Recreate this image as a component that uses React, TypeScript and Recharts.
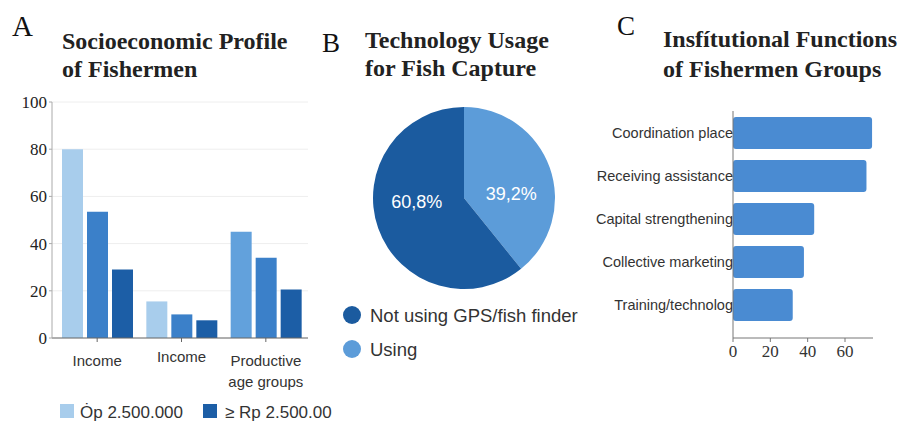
import { BarChart, Bar, XAxis, YAxis, CartesianGrid, Cell, PieChart, Pie } from 'recharts';

// Panel A: socioeconomic profile
const profileGroups = [['Income'], ['Income'], ['Productive', 'age groups']];
const profileLow = [80, 15.5, 45];
const profileMid = [53.5, 10, 34];
const profileHigh = [29, 7.5, 20.5];
const profileTicks = [0, 20, 40, 60, 80, 100];
const profileLegend = ['\u022Ep 2.500.000', '\u2265 Rp 2.500.00'];

// Panel B: technology usage
const techNames = ['Using', 'Not using GPS/fish finder'];
const techValues = [39.2, 60.8];
const techLabels = ['39,2%', '60,8%'];

// Panel C: institutional functions
const funcNames = ['Coordination place', 'Receiving assistance', 'Capital strengthening', 'Collective marketing', 'Training/technolog'];
const funcValues = [74.5, 71.5, 43.5, 38, 32];
const funcTicks = [0, 20, 40, 60];

const SERIF = '"Liberation Serif", "Times New Roman", serif';
const SANS = '"Liberation Sans", Arial, sans-serif';

const C_LIGHT = '#a8cdec';
const C_LIGHT2 = '#62a1dc';
const C_MID = '#3b80c9';
const C_DARK = '#1c5ea6';
const PIE_DARK = '#1b5b9f';
const PIE_LIGHT = '#5c9cd9';
const C_BAR = '#4a8bd2';

const profileData = profileGroups.map((g, i) => ({
  name: g.join(' '),
  low: profileLow[i],
  mid: profileMid[i],
  high: profileHigh[i],
}));

const techData = techNames.map((n, i) => ({ name: n, value: techValues[i], label: techLabels[i] }));
const funcData = funcNames.map((n, i) => ({ name: n, value: funcValues[i] }));

const ProfileTick = (props: any) => {
  const { x, y, index } = props;
  const lines = profileGroups[index] || [];
  const lift = index === 1 ? -4 : 0;
  return (
    <g>
      {lines.map((l, k) => (
        <text key={k} x={x} y={y + 22 + lift + k * 21} textAnchor="middle" fontFamily={SANS} fontSize={15} fill="#333">
          {l}
        </text>
      ))}
    </g>
  );
};

// serif number ticks, used on the y axis of A and x axis of C
const SerifYTick = (props: any) => {
  const { x, y, payload } = props;
  return (
    <text x={x} y={y} dy={6} textAnchor="end" fontFamily={SERIF} fontSize={17} fill="#222">
      {payload.value}
    </text>
  );
};

const SerifXTick = (props: any) => {
  const { x, y, payload } = props;
  return (
    <text x={x} y={y} dy={13} textAnchor="middle" fontFamily={SERIF} fontSize={17} fill="#333">
      {payload.value}
    </text>
  );
};

const FuncTick = (props: any) => {
  const { x, y, payload } = props;
  return (
    <text x={x + 2} y={y} dy={5} textAnchor="end" fontFamily={SANS} fontSize={14.5} fill="#333">
      {payload.value}
    </text>
  );
};

const RAD = Math.PI / 180;
const pieLabel = (p: any) => {
  const { cx, cy, midAngle, outerRadius, index } = p;
  const x = cx + outerRadius * 0.55 * Math.cos(midAngle * RAD);
  const y = cy - outerRadius * 0.12 * Math.sin(midAngle * RAD);
  return (
    <text x={x} y={y} textAnchor="middle" dominantBaseline="central" fontFamily={SANS} fontSize={18} fill="#fff">
      {techData[index].label}
    </text>
  );
};

export default function App() {
  return (
    <div style={{ position: 'absolute', left: 0, top: 0, width: 909, height: 423, background: '#fff', overflow: 'hidden' }}>
      <svg width={909} height={423} style={{ position: 'absolute', left: 0, top: 0 }}>
        <text x={12} y={36} fontFamily={SERIF} fontSize={29} fill="#111">A</text>
        <text x={62} y={49} fontFamily={SERIF} fontSize={24} fontWeight={600} fill="#222">Socioeconomic Profile</text>
        <text x={62} y={77} fontFamily={SERIF} fontSize={24} fontWeight={600} fill="#222">of Fishermen</text>

        <text x={322} y={52} fontFamily={SERIF} fontSize={27} fill="#111">B</text>
        <text x={365} y={48} fontFamily={SERIF} fontSize={24} fontWeight={600} fill="#222">Technology Usage</text>
        <text x={365} y={76} fontFamily={SERIF} fontSize={24} fontWeight={600} fill="#222">for Fish Capture</text>

        <text x={617} y={35} fontFamily={SERIF} fontSize={27} fill="#111">C</text>
        <text x={663} y={47} fontFamily={SERIF} fontSize={24} fontWeight={600} fill="#222">Insfítutional Functions</text>
        <text x={663} y={77} fontFamily={SERIF} fontSize={24} fontWeight={600} fill="#222">of Fishermen Groups</text>

        {/* legend A */}
        <rect x={60} y={404} width={14} height={14} fill={C_LIGHT} />
        <text x={80} y={418} fontFamily={SANS} fontSize={17} fill="#333">{profileLegend[0]}</text>
        <rect x={203} y={404} width={14} height={14} fill={C_DARK} />
        <text x={225} y={418} fontFamily={SANS} fontSize={17} fill="#333">{profileLegend[1]}</text>

        {/* legend B */}
        <circle cx={352} cy={315} r={9} fill={PIE_DARK} />
        <text x={370} y={322} fontFamily={SANS} fontSize={18.5} fill="#333">{techNames[1]}</text>
        <circle cx={352} cy={349} r={9} fill={PIE_LIGHT} />
        <text x={370} y={356} fontFamily={SANS} fontSize={18.5} fill="#333">{techNames[0]}</text>
      </svg>

      <div style={{ position: 'absolute', left: 0, top: 90 }}>
        <BarChart width={310} height={312} data={profileData} margin={{ top: 12, right: 2, left: 0, bottom: 14 }} barSize={21} barGap={4}>
          <CartesianGrid vertical={false} stroke="#eeeeee" />
          <XAxis dataKey="name" height={50} stroke="#666" tickSize={4} tick={<ProfileTick />} interval={0} padding={{ left: 3, right: 0 }} />
          <YAxis width={52} domain={[0, 100]} ticks={profileTicks} stroke="#aaa" tickSize={3} tick={<SerifYTick />} />
          <Bar dataKey="low" isAnimationActive={false}>
            {profileData.map((d, i) => (
              <Cell key={i} fill={i === 2 ? C_LIGHT2 : C_LIGHT} />
            ))}
          </Bar>
          <Bar dataKey="mid" fill={C_MID} isAnimationActive={false} />
          <Bar dataKey="high" fill={C_DARK} isAnimationActive={false} />
        </BarChart>
      </div>

      <div style={{ position: 'absolute', left: 312, top: 90 }}>
        <PieChart width={300} height={210}>
          <Pie
            data={techData}
            dataKey="value"
            cx={147}
            cy={103}
            outerRadius={91}
            startAngle={90}
            endAngle={-270}
            stroke="none"
            labelLine={false}
            label={pieLabel}
            isAnimationActive={false}
          >
            {techData.map((d, i) => (
              <Cell key={i} fill={i === 0 ? PIE_LIGHT : PIE_DARK} />
            ))}
          </Pie>
        </PieChart>
      </div>

      <div style={{ position: 'absolute', left: 580, top: 100 }}>
        <BarChart layout="vertical" width={300} height={268} data={funcData} margin={{ top: 11, right: 7, left: 3, bottom: 0 }} barSize={32}>
          <XAxis type="number" domain={[0, 75]} ticks={funcTicks} height={30} stroke="#777" tickSize={4} tick={<SerifXTick />} />
          <YAxis type="category" dataKey="name" width={150} stroke="#777" tickLine={false} tickSize={0} tick={<FuncTick />} padding={{ top: 0, bottom: 12 }} />
          <Bar dataKey="value" fill={C_BAR} radius={3} isAnimationActive={false} />
        </BarChart>
      </div>
    </div>
  );
}
